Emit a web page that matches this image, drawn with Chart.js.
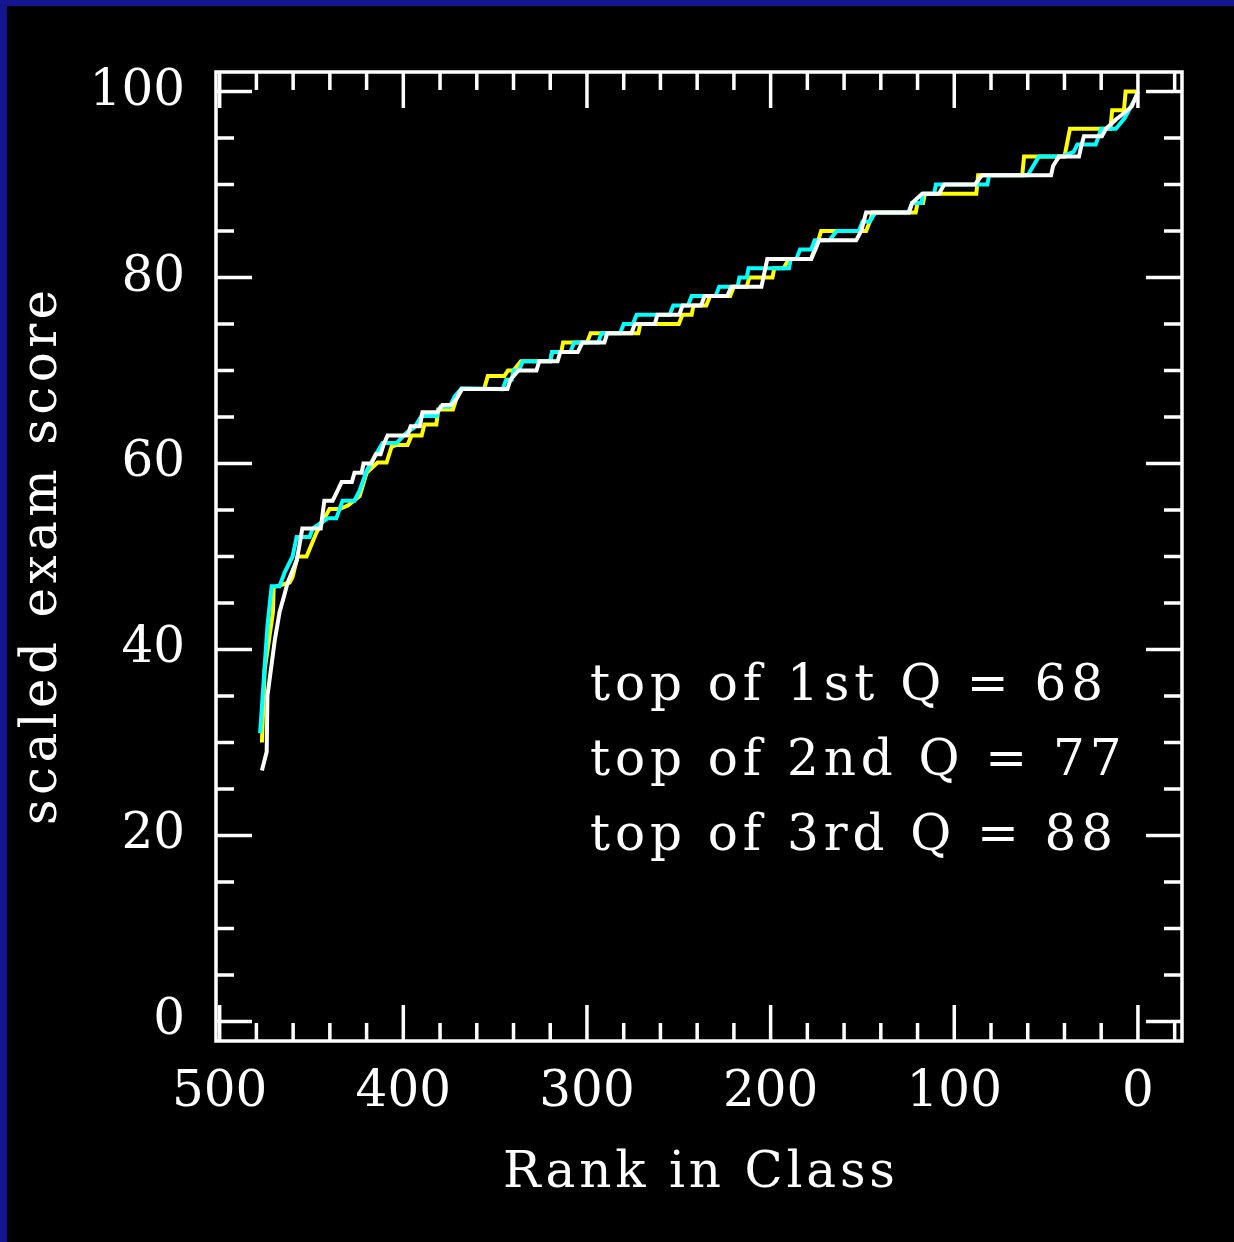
<!DOCTYPE html>
<html>
<head>
<meta charset="utf-8">
<script src="https://cdn.jsdelivr.net/npm/chart.js@4.4.1/dist/chart.umd.min.js"></script>
<style>
  html, body { margin: 0; padding: 0; background: #000; }
  canvas { display: block; }
</style>
</head>
<body>
<canvas id="grafico" width="1234" height="1242"></canvas>
<script>
// Curvas de nota ordenada vs. rango
const whiteRank = [477,474.4,474,470,467.4,464.6,463,458,455,445,443,438.5,436,433.6,428,426.6,422.7,421.7,417.3,415,412.4,410.8,408.6,397.7,396,391,389.6,381.4,378.7,373.8,371,368.3,343.3,341.7,337.3,327.5,326,316,314.5,305,302.5,290.5,289,275.8,274,263,261.7,249.7,248,237.8,236,223.6,221.4,205,201.8,177.9,175.7,173.6,153.4,150.7,148,124.6,123,117.5,108.3,105.5,88.7,85,47.3,46.2,43,32.1,31,29.4,19.6,17.4,12,8.7,3.3,0];
const whiteScore = [27,29,35,41,44,46,47.2,49.6,53,53,56,56,57,58,58,59,59,60,60,61,61,62,63,63,64,64,65.5,65.5,66.3,66.3,67,68,68,69,70,70,71,71,72,72,73,73,74,74,75,75,76,76,77,77,78,78,79,79,82,82,83,84,84,85,87,87,88,89,89,90,90,91,91,92,93,93,94,95.2,95.2,96,97,97.5,98.4,100];

const cyanRank = [478,476.6,474,471.7,467.4,464.6,460.3,458.1,451,449.4,441.2,436.5,433.1,426.6,423.8,420,414.6,411.3,403.7,398.3,393.9,390.1,381.9,379.8,374.9,372.1,368.3,346,344,341,340,337,335,320,319,309,307,294,292,282,280,275,273,255,253,245,243,230,228,218,217,213,212,190,189,186,184,178,176,168,164,152,150,146,143,125,123,118,117,111,110,82,81,60,57,54,42,35,33,23,20,12,7,3.3,1.3];
const cyanScore = [31,35,42.5,46.8,46.8,48.3,50,52.1,52.1,53,54.1,54.1,56,56,57.1,59.2,61.1,62.2,62.2,63.3,63.9,65.1,65.1,66.1,66.1,67.2,68.1,68,69,69,70,70,71,71,72,72,73,73,74,74,75,75,76,76,77,77,78,78,79,79,80,80,81,81,82,82,83,83,84,84,85,85,86,86,87,87,88,88,89,89,90,90,91,91,92,93,93,93.5,94.3,94.3,96,96,97.2,98.6,99.3];

const yellowRank = [477,475.5,471,470.6,461.9,460.3,457.6,452.7,447.2,440.2,434.7,430,423.8,420,414,409.1,406.4,403.7,397.7,395.5,390,388.5,382,381,373,371,368,356,354,345,343,340,336,320,319,314,313,300,298,272,271,250,248,243,242,235,233,222,220,213,211.6,199,198,193,190,178,176,174,172.5,148,146,144.5,121,120,117,116,88,87,63,62,40,39,37,15,14,7.6,6.7,1];
const yellowScore = [30,37.8,44,46.7,47.2,47.8,50,50,52.6,55.1,55.1,55.5,56.5,59,60.1,60.1,61.8,62,62,63,63,64.2,64.2,65.8,65.8,67,68,68,69.4,69.4,70,70,71,71,72,72,73,73,74,74,75,75,76,76,77,77,78,78,79,79,80,80,81,81,82,82,83,84,85,85,86,87,87,88,88,89,89,91,91,93,93,94,96,96,98,98,100,100];

// Ejes
const xTicks = [500, 400, 300, 200, 100, 0];
const yTicks = [0, 20, 40, 60, 80, 100];
const notas = ['top of 1st Q = 68', 'top of 2nd Q = 77', 'top of 3rd Q = 88'];
const tituloX = 'Rank in Class';
const tituloY = 'scaled exam score';

const FUENTE = "'DejaVu Serif', serif";

function serie(rank, score, color) {
    return {
        data: rank.map((r, i) => ({ x: r, y: score[i] })),
        showLine: true,
        borderColor: color,
        borderWidth: 4,
        pointRadius: 0,
        tension: 0,
        fill: false
    };
}

// Texto con espaciado para imitar la fuente original
function textoEspaciado(ctx, texto, x, y, ancho) {
    ctx.letterSpacing = '0px';
    const w = ctx.measureText(texto).width;
    const sp = ancho ? (ancho - w) / (texto.length - 1) : 0;
    ctx.letterSpacing = sp + 'px';
    ctx.fillText(texto, x, y);
    ctx.letterSpacing = '0px';
    return sp;
}

const marco = {
    id: 'marco',
    beforeDraw(chart) {
        const ctx = chart.ctx;
        ctx.save();
        ctx.fillStyle = '#000';
        ctx.fillRect(0, 0, chart.width, chart.height);
        ctx.fillStyle = '#13168f';
        ctx.fillRect(0, 0, chart.width, 6);
        ctx.fillRect(0, 0, 7, chart.height);
        ctx.restore();
    },
    afterDraw(chart) {
        const ctx = chart.ctx;
        const { left, right, top, bottom } = chart.chartArea;
        const sx = chart.scales.x, sy = chart.scales.y;
        ctx.save();
        ctx.strokeStyle = '#fff';
        ctx.lineWidth = 3.5;
        ctx.strokeRect(left, top, right - left, bottom - top);

        ctx.beginPath();
        for (let v = -20; v <= 500; v += 20) {
            const px = sx.getPixelForValue(v);
            const len = v % 100 === 0 ? 36 : 18;
            ctx.moveTo(px, bottom); ctx.lineTo(px, bottom - len);
            ctx.moveTo(px, top); ctx.lineTo(px, top + len);
        }
        for (let v = 0; v <= 100; v += 5) {
            const py = sy.getPixelForValue(v);
            const len = v % 20 === 0 ? 36 : 18;
            ctx.moveTo(left, py); ctx.lineTo(left + len, py);
            ctx.moveTo(right, py); ctx.lineTo(right - len, py);
        }
        ctx.stroke();

        ctx.fillStyle = '#fff';
        ctx.font = '50px ' + FUENTE;
        ctx.textAlign = 'left';
        ctx.textBaseline = 'alphabetic';

        textoEspaciado(ctx, tituloX, 503, 1187, 392);

        ctx.save();
        ctx.translate(56, 825);
        ctx.rotate(-Math.PI / 2);
        textoEspaciado(ctx, tituloY, 0, 0, 535);
        ctx.restore();

        ctx.letterSpacing = '0px';
        const w0 = ctx.measureText(notas[0]).width;
        const sp = (513 - w0) / (notas[0].length - 1);
        ctx.letterSpacing = sp + 'px';
        notas.forEach((t, i) => ctx.fillText(t, 590, 700 + i * 75));
        ctx.letterSpacing = '0px';
        ctx.restore();
    }
};

new Chart(document.getElementById('grafico'), {
    type: 'scatter',
    data: {
        datasets: [
            serie(whiteRank, whiteScore, '#ffffff'),
            serie(cyanRank, cyanScore, '#00ffff'),
            serie(yellowRank, yellowScore, '#ffff00')
        ]
    },
    options: {
        responsive: false,
        animation: false,
        devicePixelRatio: 1,
        layout: { padding: { top: 72, right: 52, left: 0, bottom: 0 } },
        plugins: { legend: { display: false }, tooltip: { enabled: false } },
        scales: {
            x: {
                type: 'linear',
                reverse: true,
                min: -24,
                max: 502,
                afterFit: s => { s.height = 201; },
                afterBuildTicks: s => { s.ticks = xTicks.map(v => ({ value: v })); },
                grid: { display: false, drawTicks: false },
                border: { display: false },
                ticks: { color: '#fff', font: { family: FUENTE, size: 50 }, padding: 22, maxRotation: 0, autoSkip: false }
            },
            y: {
                type: 'linear',
                min: -2.1,
                max: 102.1,
                afterFit: s => { s.width = 216; },
                afterBuildTicks: s => { s.ticks = yTicks.map(v => ({ value: v })); },
                grid: { display: false, drawTicks: false },
                border: { display: false },
                ticks: { color: '#fff', font: { family: FUENTE, size: 50 }, padding: 31, autoSkip: false }
            }
        }
    },
    plugins: [marco]
});
</script>
</body>
</html>
